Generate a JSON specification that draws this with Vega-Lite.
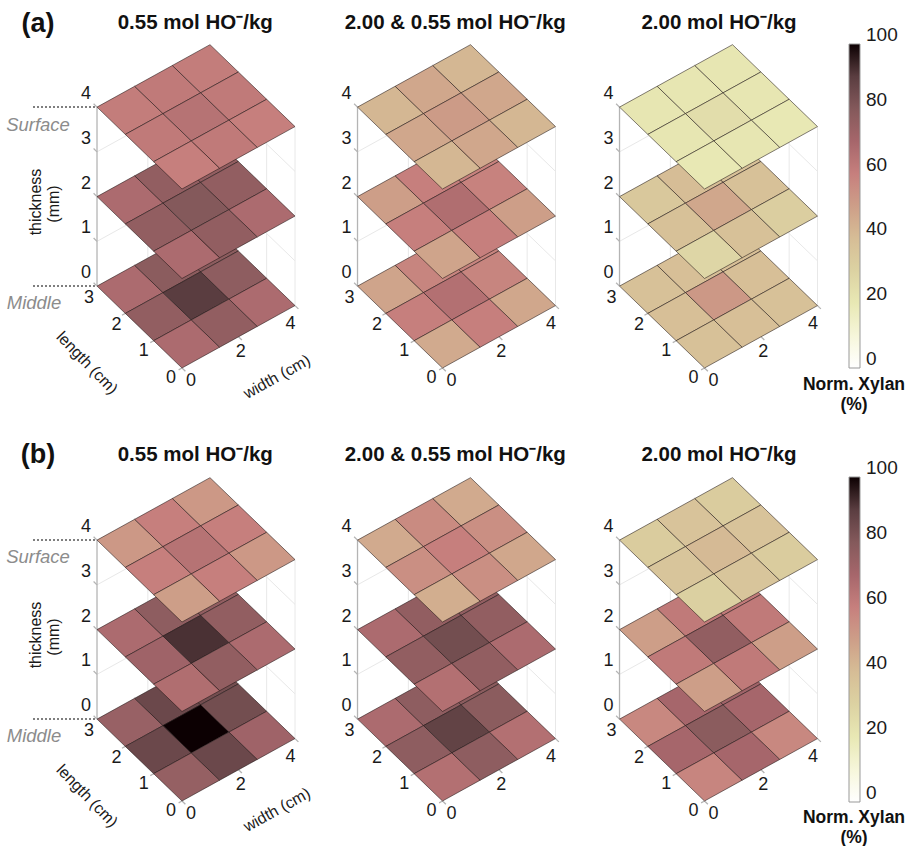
{"$schema":"https://vega.github.io/schema/vega-lite/v6.json","padding":0,"autosize":{"type":"pad"},"background":"white",
"config":{"view":{"stroke":null},"font":"Liberation Sans","title":{"font":"Liberation Sans","fontSize":20.5,"fontWeight":"bold","color":"#111","anchor":"middle"},"text":{"font":"Liberation Sans"}},
"datasets":{
"cells":[
{"row":"a","col":1,"t":0,"w":0.6667,"l":2.5,"xylan":68},{"row":"a","col":1,"t":0,"w":2,"l":2.5,"xylan":78},{"row":"a","col":1,"t":0,"w":3.3333,"l":2.5,"xylan":78},{"row":"a","col":1,"t":0,"w":0.6667,"l":1.5,"xylan":76},{"row":"a","col":1,"t":0,"w":2,"l":1.5,"xylan":90},{"row":"a","col":1,"t":0,"w":3.3333,"l":1.5,"xylan":77},{"row":"a","col":1,"t":0,"w":0.6667,"l":0.5,"xylan":68},{"row":"a","col":1,"t":0,"w":2,"l":0.5,"xylan":76},{"row":"a","col":1,"t":0,"w":3.3333,"l":0.5,"xylan":68},
{"row":"a","col":1,"t":2,"w":0.6667,"l":2.5,"xylan":68},{"row":"a","col":1,"t":2,"w":2,"l":2.5,"xylan":76},{"row":"a","col":1,"t":2,"w":3.3333,"l":2.5,"xylan":76},{"row":"a","col":1,"t":2,"w":0.6667,"l":1.5,"xylan":76},{"row":"a","col":1,"t":2,"w":2,"l":1.5,"xylan":80},{"row":"a","col":1,"t":2,"w":3.3333,"l":1.5,"xylan":76},{"row":"a","col":1,"t":2,"w":0.6667,"l":0.5,"xylan":68},{"row":"a","col":1,"t":2,"w":2,"l":0.5,"xylan":76},{"row":"a","col":1,"t":2,"w":3.3333,"l":0.5,"xylan":68},
{"row":"a","col":1,"t":4,"w":0.6667,"l":2.5,"xylan":61},{"row":"a","col":1,"t":4,"w":2,"l":2.5,"xylan":62},{"row":"a","col":1,"t":4,"w":3.3333,"l":2.5,"xylan":61},{"row":"a","col":1,"t":4,"w":0.6667,"l":1.5,"xylan":62},{"row":"a","col":1,"t":4,"w":2,"l":1.5,"xylan":65},{"row":"a","col":1,"t":4,"w":3.3333,"l":1.5,"xylan":62},{"row":"a","col":1,"t":4,"w":0.6667,"l":0.5,"xylan":60},{"row":"a","col":1,"t":4,"w":2,"l":0.5,"xylan":62},{"row":"a","col":1,"t":4,"w":3.3333,"l":0.5,"xylan":60},
{"row":"a","col":2,"t":0,"w":0.6667,"l":2.5,"xylan":48},{"row":"a","col":2,"t":0,"w":2,"l":2.5,"xylan":58},{"row":"a","col":2,"t":0,"w":3.3333,"l":2.5,"xylan":58},{"row":"a","col":2,"t":0,"w":0.6667,"l":1.5,"xylan":60},{"row":"a","col":2,"t":0,"w":2,"l":1.5,"xylan":66},{"row":"a","col":2,"t":0,"w":3.3333,"l":1.5,"xylan":58},{"row":"a","col":2,"t":0,"w":0.6667,"l":0.5,"xylan":46},{"row":"a","col":2,"t":0,"w":2,"l":0.5,"xylan":60},{"row":"a","col":2,"t":0,"w":3.3333,"l":0.5,"xylan":47},
{"row":"a","col":2,"t":2,"w":0.6667,"l":2.5,"xylan":50},{"row":"a","col":2,"t":2,"w":2,"l":2.5,"xylan":60},{"row":"a","col":2,"t":2,"w":3.3333,"l":2.5,"xylan":59},{"row":"a","col":2,"t":2,"w":0.6667,"l":1.5,"xylan":60},{"row":"a","col":2,"t":2,"w":2,"l":1.5,"xylan":67},{"row":"a","col":2,"t":2,"w":3.3333,"l":1.5,"xylan":59},{"row":"a","col":2,"t":2,"w":0.6667,"l":0.5,"xylan":48},{"row":"a","col":2,"t":2,"w":2,"l":0.5,"xylan":60},{"row":"a","col":2,"t":2,"w":3.3333,"l":0.5,"xylan":50},
{"row":"a","col":2,"t":4,"w":0.6667,"l":2.5,"xylan":42},{"row":"a","col":2,"t":4,"w":2,"l":2.5,"xylan":47},{"row":"a","col":2,"t":4,"w":3.3333,"l":2.5,"xylan":42},{"row":"a","col":2,"t":4,"w":0.6667,"l":1.5,"xylan":47},{"row":"a","col":2,"t":4,"w":2,"l":1.5,"xylan":51},{"row":"a","col":2,"t":4,"w":3.3333,"l":1.5,"xylan":47},{"row":"a","col":2,"t":4,"w":0.6667,"l":0.5,"xylan":42},{"row":"a","col":2,"t":4,"w":2,"l":0.5,"xylan":47},{"row":"a","col":2,"t":4,"w":3.3333,"l":0.5,"xylan":42},
{"row":"a","col":3,"t":0,"w":0.6667,"l":2.5,"xylan":38},{"row":"a","col":3,"t":0,"w":2,"l":2.5,"xylan":39},{"row":"a","col":3,"t":0,"w":3.3333,"l":2.5,"xylan":39},{"row":"a","col":3,"t":0,"w":0.6667,"l":1.5,"xylan":39},{"row":"a","col":3,"t":0,"w":2,"l":1.5,"xylan":52},{"row":"a","col":3,"t":0,"w":3.3333,"l":1.5,"xylan":39},{"row":"a","col":3,"t":0,"w":0.6667,"l":0.5,"xylan":38},{"row":"a","col":3,"t":0,"w":2,"l":0.5,"xylan":39},{"row":"a","col":3,"t":0,"w":3.3333,"l":0.5,"xylan":38},
{"row":"a","col":3,"t":2,"w":0.6667,"l":2.5,"xylan":35},{"row":"a","col":3,"t":2,"w":2,"l":2.5,"xylan":40},{"row":"a","col":3,"t":2,"w":3.3333,"l":2.5,"xylan":38},{"row":"a","col":3,"t":2,"w":0.6667,"l":1.5,"xylan":38},{"row":"a","col":3,"t":2,"w":2,"l":1.5,"xylan":47},{"row":"a","col":3,"t":2,"w":3.3333,"l":1.5,"xylan":38},{"row":"a","col":3,"t":2,"w":0.6667,"l":0.5,"xylan":28},{"row":"a","col":3,"t":2,"w":2,"l":0.5,"xylan":38},{"row":"a","col":3,"t":2,"w":3.3333,"l":0.5,"xylan":32},
{"row":"a","col":3,"t":4,"w":0.6667,"l":2.5,"xylan":21},{"row":"a","col":3,"t":4,"w":2,"l":2.5,"xylan":21},{"row":"a","col":3,"t":4,"w":3.3333,"l":2.5,"xylan":21},{"row":"a","col":3,"t":4,"w":0.6667,"l":1.5,"xylan":21},{"row":"a","col":3,"t":4,"w":2,"l":1.5,"xylan":25},{"row":"a","col":3,"t":4,"w":3.3333,"l":1.5,"xylan":21},{"row":"a","col":3,"t":4,"w":0.6667,"l":0.5,"xylan":20},{"row":"a","col":3,"t":4,"w":2,"l":0.5,"xylan":21},{"row":"a","col":3,"t":4,"w":3.3333,"l":0.5,"xylan":20},
{"row":"b","col":1,"t":0,"w":0.6667,"l":2.5,"xylan":74},{"row":"b","col":1,"t":0,"w":2,"l":2.5,"xylan":86},{"row":"b","col":1,"t":0,"w":3.3333,"l":2.5,"xylan":84},{"row":"b","col":1,"t":0,"w":0.6667,"l":1.5,"xylan":86},{"row":"b","col":1,"t":0,"w":2,"l":1.5,"xylan":100},{"row":"b","col":1,"t":0,"w":3.3333,"l":1.5,"xylan":84},{"row":"b","col":1,"t":0,"w":0.6667,"l":0.5,"xylan":75},{"row":"b","col":1,"t":0,"w":2,"l":0.5,"xylan":86},{"row":"b","col":1,"t":0,"w":3.3333,"l":0.5,"xylan":72},
{"row":"b","col":1,"t":2,"w":0.6667,"l":2.5,"xylan":68},{"row":"b","col":1,"t":2,"w":2,"l":2.5,"xylan":77},{"row":"b","col":1,"t":2,"w":3.3333,"l":2.5,"xylan":76},{"row":"b","col":1,"t":2,"w":0.6667,"l":1.5,"xylan":72},{"row":"b","col":1,"t":2,"w":2,"l":1.5,"xylan":92},{"row":"b","col":1,"t":2,"w":3.3333,"l":1.5,"xylan":76},{"row":"b","col":1,"t":2,"w":0.6667,"l":0.5,"xylan":67},{"row":"b","col":1,"t":2,"w":2,"l":0.5,"xylan":76},{"row":"b","col":1,"t":2,"w":3.3333,"l":0.5,"xylan":68},
{"row":"b","col":1,"t":4,"w":0.6667,"l":2.5,"xylan":52},{"row":"b","col":1,"t":4,"w":2,"l":2.5,"xylan":60},{"row":"b","col":1,"t":4,"w":3.3333,"l":2.5,"xylan":52},{"row":"b","col":1,"t":4,"w":0.6667,"l":1.5,"xylan":60},{"row":"b","col":1,"t":4,"w":2,"l":1.5,"xylan":65},{"row":"b","col":1,"t":4,"w":3.3333,"l":1.5,"xylan":60},{"row":"b","col":1,"t":4,"w":0.6667,"l":0.5,"xylan":50},{"row":"b","col":1,"t":4,"w":2,"l":0.5,"xylan":60},{"row":"b","col":1,"t":4,"w":3.3333,"l":0.5,"xylan":52},
{"row":"b","col":2,"t":0,"w":0.6667,"l":2.5,"xylan":68},{"row":"b","col":2,"t":0,"w":2,"l":2.5,"xylan":77},{"row":"b","col":2,"t":0,"w":3.3333,"l":2.5,"xylan":78},{"row":"b","col":2,"t":0,"w":0.6667,"l":1.5,"xylan":77},{"row":"b","col":2,"t":0,"w":2,"l":1.5,"xylan":88},{"row":"b","col":2,"t":0,"w":3.3333,"l":1.5,"xylan":78},{"row":"b","col":2,"t":0,"w":0.6667,"l":0.5,"xylan":66},{"row":"b","col":2,"t":0,"w":2,"l":0.5,"xylan":77},{"row":"b","col":2,"t":0,"w":3.3333,"l":0.5,"xylan":66},
{"row":"b","col":2,"t":2,"w":0.6667,"l":2.5,"xylan":68},{"row":"b","col":2,"t":2,"w":2,"l":2.5,"xylan":76},{"row":"b","col":2,"t":2,"w":3.3333,"l":2.5,"xylan":76},{"row":"b","col":2,"t":2,"w":0.6667,"l":1.5,"xylan":76},{"row":"b","col":2,"t":2,"w":2,"l":1.5,"xylan":84},{"row":"b","col":2,"t":2,"w":3.3333,"l":1.5,"xylan":76},{"row":"b","col":2,"t":2,"w":0.6667,"l":0.5,"xylan":66},{"row":"b","col":2,"t":2,"w":2,"l":0.5,"xylan":76},{"row":"b","col":2,"t":2,"w":3.3333,"l":0.5,"xylan":68},
{"row":"b","col":2,"t":4,"w":0.6667,"l":2.5,"xylan":46},{"row":"b","col":2,"t":4,"w":2,"l":2.5,"xylan":56},{"row":"b","col":2,"t":4,"w":3.3333,"l":2.5,"xylan":46},{"row":"b","col":2,"t":4,"w":0.6667,"l":1.5,"xylan":55},{"row":"b","col":2,"t":4,"w":2,"l":1.5,"xylan":60},{"row":"b","col":2,"t":4,"w":3.3333,"l":1.5,"xylan":55},{"row":"b","col":2,"t":4,"w":0.6667,"l":0.5,"xylan":45},{"row":"b","col":2,"t":4,"w":2,"l":0.5,"xylan":55},{"row":"b","col":2,"t":4,"w":3.3333,"l":0.5,"xylan":47},
{"row":"b","col":3,"t":0,"w":0.6667,"l":2.5,"xylan":57},{"row":"b","col":3,"t":0,"w":2,"l":2.5,"xylan":70},{"row":"b","col":3,"t":0,"w":3.3333,"l":2.5,"xylan":72},{"row":"b","col":3,"t":0,"w":0.6667,"l":1.5,"xylan":70},{"row":"b","col":3,"t":0,"w":2,"l":1.5,"xylan":78},{"row":"b","col":3,"t":0,"w":3.3333,"l":1.5,"xylan":70},{"row":"b","col":3,"t":0,"w":0.6667,"l":0.5,"xylan":58},{"row":"b","col":3,"t":0,"w":2,"l":0.5,"xylan":70},{"row":"b","col":3,"t":0,"w":3.3333,"l":0.5,"xylan":57},
{"row":"b","col":3,"t":2,"w":0.6667,"l":2.5,"xylan":50},{"row":"b","col":3,"t":2,"w":2,"l":2.5,"xylan":62},{"row":"b","col":3,"t":2,"w":3.3333,"l":2.5,"xylan":62},{"row":"b","col":3,"t":2,"w":0.6667,"l":1.5,"xylan":62},{"row":"b","col":3,"t":2,"w":2,"l":1.5,"xylan":76},{"row":"b","col":3,"t":2,"w":3.3333,"l":1.5,"xylan":62},{"row":"b","col":3,"t":2,"w":0.6667,"l":0.5,"xylan":50},{"row":"b","col":3,"t":2,"w":2,"l":0.5,"xylan":62},{"row":"b","col":3,"t":2,"w":3.3333,"l":0.5,"xylan":50},
{"row":"b","col":3,"t":4,"w":0.6667,"l":2.5,"xylan":33},{"row":"b","col":3,"t":4,"w":2,"l":2.5,"xylan":37},{"row":"b","col":3,"t":4,"w":3.3333,"l":2.5,"xylan":33},{"row":"b","col":3,"t":4,"w":0.6667,"l":1.5,"xylan":36},{"row":"b","col":3,"t":4,"w":2,"l":1.5,"xylan":41},{"row":"b","col":3,"t":4,"w":3.3333,"l":1.5,"xylan":37},{"row":"b","col":3,"t":4,"w":0.6667,"l":0.5,"xylan":31},{"row":"b","col":3,"t":4,"w":2,"l":0.5,"xylan":36},{"row":"b","col":3,"t":4,"w":3.3333,"l":0.5,"xylan":33}
],
"frame":[
{"kind":"grid","w1":0,"l1":3,"t1":1,"w2":4,"l2":3,"t2":1},{"kind":"grid","w1":0,"l1":3,"t1":3,"w2":4,"l2":3,"t2":3},{"kind":"grid","w1":4,"l1":3,"t1":1,"w2":4,"l2":0,"t2":1},{"kind":"grid","w1":4,"l1":3,"t1":3,"w2":4,"l2":0,"t2":3},
{"kind":"grid","w1":1.8,"l1":3,"t1":0,"w2":1.8,"l2":3,"t2":4},{"kind":"grid","w1":4,"l1":1,"t1":0,"w2":4,"l2":1,"t2":4},{"kind":"grid","w1":4,"l1":0,"t1":0,"w2":4,"l2":0,"t2":4},
{"kind":"axis","w1":0,"l1":3,"t1":0,"w2":0,"l2":3,"t2":4},
{"kind":"axis","w1":0,"l1":3,"t1":0,"w2":0,"l2":3.12,"t2":0},{"kind":"axis","w1":0,"l1":3,"t1":1,"w2":0,"l2":3.12,"t2":1},{"kind":"axis","w1":0,"l1":3,"t1":2,"w2":0,"l2":3.12,"t2":2},{"kind":"axis","w1":0,"l1":3,"t1":3,"w2":0,"l2":3.12,"t2":3},{"kind":"axis","w1":0,"l1":3,"t1":4,"w2":0,"l2":3.12,"t2":4},
{"kind":"axis","w1":0,"l1":0,"t1":0,"w2":-0.12,"l2":0,"t2":0},{"kind":"axis","w1":0,"l1":1,"t1":0,"w2":-0.12,"l2":1,"t2":0},{"kind":"axis","w1":0,"l1":2,"t1":0,"w2":-0.12,"l2":2,"t2":0},
{"kind":"axis","w1":0,"l1":0,"t1":0,"w2":0,"l2":-0.12,"t2":0},{"kind":"axis","w1":2,"l1":0,"t1":0,"w2":2,"l2":-0.12,"t2":0},{"kind":"axis","w1":4,"l1":0,"t1":0,"w2":4,"l2":-0.12,"t2":0}
],
"ticks":[{"axis":"t","v":0},{"axis":"t","v":1},{"axis":"t","v":2},{"axis":"t","v":3},{"axis":"t","v":4},{"axis":"l","v":0},{"axis":"l","v":1},{"axis":"l","v":2},{"axis":"l","v":3},{"axis":"w","v":0},{"axis":"w","v":2},{"axis":"w","v":4}]
},
"spacing":0,
"resolve":{"scale":{"color":"independent"}},
"vconcat":[
{"spacing":0,"bounds":"flush","resolve":{"scale":{"color":"independent"}},"hconcat":[
{"title":{"text":"0.55 mol HO⁻/kg","offset":-33,"dx":65},"width":260.5,"height":432,
"encoding":{"x":{"field":"X","type":"quantitative","scale":{"domain":[-182,78.5],"nice":false,"zero":false},"axis":null},"y":{"field":"Y","type":"quantitative","scale":{"domain":[-64,368],"nice":false,"zero":false},"axis":null}},
"layer":[
{"data":{"name":"frame"},"transform":[{"filter":"datum.kind=='grid'"},{"calculate":"28.25*datum.w1-28.33*datum.l1","as":"X"},{"calculate":"44.75*datum.t1+15.6*datum.w1+27.3*datum.l1","as":"Y"},{"calculate":"28.25*datum.w2-28.33*datum.l2","as":"X2"},{"calculate":"44.75*datum.t2+15.6*datum.w2+27.3*datum.l2","as":"Y2"}],"mark":{"type":"rule","stroke":"#e8e8e8","strokeWidth":1},"encoding":{"x2":{"field":"X2"},"y2":{"field":"Y2"}}},
{"data":{"name":"frame"},"transform":[{"filter":"datum.kind=='axis'"},{"calculate":"28.25*datum.w1-28.33*datum.l1","as":"X"},{"calculate":"44.75*datum.t1+15.6*datum.w1+27.3*datum.l1","as":"Y"},{"calculate":"28.25*datum.w2-28.33*datum.l2","as":"X2"},{"calculate":"44.75*datum.t2+15.6*datum.w2+27.3*datum.l2","as":"Y2"}],"mark":{"type":"rule","stroke":"#b4b4b4","strokeWidth":1.3},"encoding":{"x2":{"field":"X2"},"y2":{"field":"Y2"}}},
{"data":{"name":"cells"},"transform":[{"filter":"datum.row=='a'&&datum.col==1"},{"calculate":"28.25*datum.w-28.33*datum.l","as":"X"},{"calculate":"44.75*datum.t+15.6*datum.w+27.3*datum.l","as":"Y"}],"mark":{"type":"point","shape":"M-4.67 24.08L33 3.25L4.67 -24.08L-33 -3.25Z","size":4,"filled":true,"opacity":1,"stroke":"#1a1010","strokeWidth":0.9,"strokeOpacity":0.6},"encoding":{"color":{"field":"xylan","type":"quantitative","scale":{"domain":[0,10,20,30,40,50,60,70,80,90,100],"range":["#ffffff","#f6f6da","#e8e8b4","#dcd2a2","#d6bd96","#cd9e88","#c67f7d","#a6666b","#84595b","#5a3d40","#0c0002"],"interpolate":"rgb"},"legend":null}}},
{"data":{"name":"ticks"},"transform":[{"calculate":"datum.axis=='t'?-96:datum.axis=='l'?-11-27.3*datum.v:9+24.9*datum.v","as":"X"},{"calculate":"datum.axis=='t'?95+44.75*datum.v:datum.axis=='l'?-10+26.7*datum.v:-12.7+14.2*datum.v","as":"Y"}],"mark":{"type":"text","fontSize":18,"color":"#1a1a1a","align":"center","baseline":"middle"},"encoding":{"text":{"field":"v","type":"nominal"}}},
{"data":{"values":[{"level":0},{"level":4}]},"transform":[{"calculate":"-149","as":"X"},{"calculate":"-85","as":"X2"},{"calculate":"81.9+44.75*datum.level","as":"Y"}],"mark":{"type":"rule","stroke":"#555","strokeWidth":1.5,"strokeDash":[2,2]},"encoding":{"x2":{"field":"X2"}}},
{"data":{"values":[{"label":"Surface"}]},"transform":[{"calculate":"-144","as":"X"},{"calculate":"243","as":"Y"}],"mark":{"type":"text","fontSize":18.5,"fontStyle":"italic","color":"#8c8c8c"},"encoding":{"text":{"field":"label"}}},
{"data":{"values":[{"label":"Middle"}]},"transform":[{"calculate":"-148","as":"X"},{"calculate":"65","as":"Y"}],"mark":{"type":"text","fontSize":18.5,"fontStyle":"italic","color":"#8c8c8c"},"encoding":{"text":{"field":"label"}}},
{"data":{"values":[{"label":"thickness"}]},"transform":[{"calculate":"-146","as":"X"},{"calculate":"166","as":"Y"}],"mark":{"type":"text","fontSize":16,"angle":270,"color":"#1a1a1a"},"encoding":{"text":{"field":"label"}}},
{"data":{"values":[{"label":"(mm)"}]},"transform":[{"calculate":"-128","as":"X"},{"calculate":"164","as":"Y"}],"mark":{"type":"text","fontSize":16,"angle":270,"color":"#1a1a1a"},"encoding":{"text":{"field":"label"}}},
{"data":{"values":[{"label":"length (cm)"}]},"transform":[{"calculate":"-95","as":"X"},{"calculate":"5","as":"Y"}],"mark":{"type":"text","fontSize":16,"angle":46,"color":"#1a1a1a"},"encoding":{"text":{"field":"label"}}},
{"data":{"values":[{"label":"width (cm)"}]},"transform":[{"calculate":"95","as":"X"},{"calculate":"-9","as":"Y"}],"mark":{"type":"text","fontSize":16,"angle":331,"color":"#1a1a1a"},"encoding":{"text":{"field":"label"}}},
{"data":{"values":[{"label":"(a)"}]},"transform":[{"calculate":"-144","as":"X"},{"calculate":"344","as":"Y"}],"mark":{"type":"text","fontSize":27,"fontWeight":"bold","color":"#111"},"encoding":{"text":{"field":"label"}}}
]},
{"title":{"text":"2.00 & 0.55 mol HO⁻/kg","offset":-33,"dx":64},"width":260.5,"height":432,
"encoding":{"x":{"field":"X","type":"quantitative","scale":{"domain":[-181.5,79],"nice":false,"zero":false},"axis":null},"y":{"field":"Y","type":"quantitative","scale":{"domain":[-64,368],"nice":false,"zero":false},"axis":null}},
"layer":[
{"data":{"name":"frame"},"transform":[{"filter":"datum.kind=='grid'"},{"calculate":"28.25*datum.w1-28.33*datum.l1","as":"X"},{"calculate":"44.75*datum.t1+15.6*datum.w1+27.3*datum.l1","as":"Y"},{"calculate":"28.25*datum.w2-28.33*datum.l2","as":"X2"},{"calculate":"44.75*datum.t2+15.6*datum.w2+27.3*datum.l2","as":"Y2"}],"mark":{"type":"rule","stroke":"#e8e8e8","strokeWidth":1},"encoding":{"x2":{"field":"X2"},"y2":{"field":"Y2"}}},
{"data":{"name":"frame"},"transform":[{"filter":"datum.kind=='axis'"},{"calculate":"28.25*datum.w1-28.33*datum.l1","as":"X"},{"calculate":"44.75*datum.t1+15.6*datum.w1+27.3*datum.l1","as":"Y"},{"calculate":"28.25*datum.w2-28.33*datum.l2","as":"X2"},{"calculate":"44.75*datum.t2+15.6*datum.w2+27.3*datum.l2","as":"Y2"}],"mark":{"type":"rule","stroke":"#b4b4b4","strokeWidth":1.3},"encoding":{"x2":{"field":"X2"},"y2":{"field":"Y2"}}},
{"data":{"name":"cells"},"transform":[{"filter":"datum.row=='a'&&datum.col==2"},{"calculate":"28.25*datum.w-28.33*datum.l","as":"X"},{"calculate":"44.75*datum.t+15.6*datum.w+27.3*datum.l","as":"Y"}],"mark":{"type":"point","shape":"M-4.67 24.08L33 3.25L4.67 -24.08L-33 -3.25Z","size":4,"filled":true,"opacity":1,"stroke":"#1a1010","strokeWidth":0.9,"strokeOpacity":0.6},"encoding":{"color":{"field":"xylan","type":"quantitative","scale":{"domain":[0,10,20,30,40,50,60,70,80,90,100],"range":["#ffffff","#f6f6da","#e8e8b4","#dcd2a2","#d6bd96","#cd9e88","#c67f7d","#a6666b","#84595b","#5a3d40","#0c0002"],"interpolate":"rgb"},"legend":null}}},
{"data":{"name":"ticks"},"transform":[{"calculate":"datum.axis=='t'?-96:datum.axis=='l'?-11-27.3*datum.v:9+24.9*datum.v","as":"X"},{"calculate":"datum.axis=='t'?95+44.75*datum.v:datum.axis=='l'?-10+26.7*datum.v:-12.7+14.2*datum.v","as":"Y"}],"mark":{"type":"text","fontSize":18,"color":"#1a1a1a","align":"center","baseline":"middle"},"encoding":{"text":{"field":"v","type":"nominal"}}}
]},
{"title":{"text":"2.00 mol HO⁻/kg","offset":-33,"dx":1.5},"width":391,"height":432,
"encoding":{"x":{"field":"X","type":"quantitative","scale":{"domain":[-182.5,208.5],"nice":false,"zero":false},"axis":null},"y":{"field":"Y","type":"quantitative","scale":{"domain":[-64,368],"nice":false,"zero":false},"axis":null}},
"layer":[
{"data":{"name":"frame"},"transform":[{"filter":"datum.kind=='grid'"},{"calculate":"28.25*datum.w1-28.33*datum.l1","as":"X"},{"calculate":"44.75*datum.t1+15.6*datum.w1+27.3*datum.l1","as":"Y"},{"calculate":"28.25*datum.w2-28.33*datum.l2","as":"X2"},{"calculate":"44.75*datum.t2+15.6*datum.w2+27.3*datum.l2","as":"Y2"}],"mark":{"type":"rule","stroke":"#e8e8e8","strokeWidth":1},"encoding":{"x2":{"field":"X2"},"y2":{"field":"Y2"}}},
{"data":{"name":"frame"},"transform":[{"filter":"datum.kind=='axis'"},{"calculate":"28.25*datum.w1-28.33*datum.l1","as":"X"},{"calculate":"44.75*datum.t1+15.6*datum.w1+27.3*datum.l1","as":"Y"},{"calculate":"28.25*datum.w2-28.33*datum.l2","as":"X2"},{"calculate":"44.75*datum.t2+15.6*datum.w2+27.3*datum.l2","as":"Y2"}],"mark":{"type":"rule","stroke":"#b4b4b4","strokeWidth":1.3},"encoding":{"x2":{"field":"X2"},"y2":{"field":"Y2"}}},
{"data":{"name":"cells"},"transform":[{"filter":"datum.row=='a'&&datum.col==3"},{"calculate":"28.25*datum.w-28.33*datum.l","as":"X"},{"calculate":"44.75*datum.t+15.6*datum.w+27.3*datum.l","as":"Y"}],"mark":{"type":"point","shape":"M-4.67 24.08L33 3.25L4.67 -24.08L-33 -3.25Z","size":4,"filled":true,"opacity":1,"stroke":"#1a1010","strokeWidth":0.9,"strokeOpacity":0.6},"encoding":{"color":{"field":"xylan","type":"quantitative","scale":{"domain":[0,10,20,30,40,50,60,70,80,90,100],"range":["#ffffff","#f6f6da","#e8e8b4","#dcd2a2","#d6bd96","#cd9e88","#c67f7d","#a6666b","#84595b","#5a3d40","#0c0002"],"interpolate":"rgb"},"legend":{"orient":"none","legendX":327,"legendY":44,"title":null,"type":"gradient","direction":"vertical","gradientLength":324,"gradientThickness":11,"gradientStrokeColor":"#999","gradientStrokeWidth":1,"values":[0,20,40,60,80,100],"labelFont":"Liberation Sans","labelFontSize":19,"labelColor":"#1a1a1a","labelOffset":6,"labelOverlap":false,"encoding":{"labels":{"baseline":{"value":"middle"},"dy":{"value":-9}}}}}}},
{"data":{"name":"ticks"},"transform":[{"calculate":"datum.axis=='t'?-96:datum.axis=='l'?-11-27.3*datum.v:9+24.9*datum.v","as":"X"},{"calculate":"datum.axis=='t'?95+44.75*datum.v:datum.axis=='l'?-10+26.7*datum.v:-12.7+14.2*datum.v","as":"Y"}],"mark":{"type":"text","fontSize":18,"color":"#1a1a1a","align":"center","baseline":"middle"},"encoding":{"text":{"field":"v","type":"nominal"}}},
{"data":{"values":[{"label":"Norm. Xylan (%)"}]},"transform":[{"calculate":"149.5","as":"X"},{"calculate":"-17","as":"Y"}],"mark":{"type":"text","text":["Norm. Xylan","(%)"],"fontSize":17.5,"fontWeight":"bold","color":"#111","lineHeight":20,"baseline":"middle"}}
]}
]},
{"spacing":0,"bounds":"flush","resolve":{"scale":{"color":"independent"}},"hconcat":[
{"title":{"text":"0.55 mol HO⁻/kg","offset":-33,"dx":65},"width":260.5,"height":414,
"encoding":{"x":{"field":"X","type":"quantitative","scale":{"domain":[-182,78.5],"nice":false,"zero":false},"axis":null},"y":{"field":"Y","type":"quantitative","scale":{"domain":[-45,369],"nice":false,"zero":false},"axis":null}},
"layer":[
{"data":{"name":"frame"},"transform":[{"filter":"datum.kind=='grid'"},{"calculate":"28.25*datum.w1-28.33*datum.l1","as":"X"},{"calculate":"44.75*datum.t1+15.6*datum.w1+27.3*datum.l1","as":"Y"},{"calculate":"28.25*datum.w2-28.33*datum.l2","as":"X2"},{"calculate":"44.75*datum.t2+15.6*datum.w2+27.3*datum.l2","as":"Y2"}],"mark":{"type":"rule","stroke":"#e8e8e8","strokeWidth":1},"encoding":{"x2":{"field":"X2"},"y2":{"field":"Y2"}}},
{"data":{"name":"frame"},"transform":[{"filter":"datum.kind=='axis'"},{"calculate":"28.25*datum.w1-28.33*datum.l1","as":"X"},{"calculate":"44.75*datum.t1+15.6*datum.w1+27.3*datum.l1","as":"Y"},{"calculate":"28.25*datum.w2-28.33*datum.l2","as":"X2"},{"calculate":"44.75*datum.t2+15.6*datum.w2+27.3*datum.l2","as":"Y2"}],"mark":{"type":"rule","stroke":"#b4b4b4","strokeWidth":1.3},"encoding":{"x2":{"field":"X2"},"y2":{"field":"Y2"}}},
{"data":{"name":"cells"},"transform":[{"filter":"datum.row=='b'&&datum.col==1"},{"calculate":"28.25*datum.w-28.33*datum.l","as":"X"},{"calculate":"44.75*datum.t+15.6*datum.w+27.3*datum.l","as":"Y"}],"mark":{"type":"point","shape":"M-4.67 24.08L33 3.25L4.67 -24.08L-33 -3.25Z","size":4,"filled":true,"opacity":1,"stroke":"#1a1010","strokeWidth":0.9,"strokeOpacity":0.6},"encoding":{"color":{"field":"xylan","type":"quantitative","scale":{"domain":[0,10,20,30,40,50,60,70,80,90,100],"range":["#ffffff","#f6f6da","#e8e8b4","#dcd2a2","#d6bd96","#cd9e88","#c67f7d","#a6666b","#84595b","#5a3d40","#0c0002"],"interpolate":"rgb"},"legend":null}}},
{"data":{"name":"ticks"},"transform":[{"calculate":"datum.axis=='t'?-96:datum.axis=='l'?-11-27.3*datum.v:9+24.9*datum.v","as":"X"},{"calculate":"datum.axis=='t'?95+44.75*datum.v:datum.axis=='l'?-10+26.7*datum.v:-12.7+14.2*datum.v","as":"Y"}],"mark":{"type":"text","fontSize":18,"color":"#1a1a1a","align":"center","baseline":"middle"},"encoding":{"text":{"field":"v","type":"nominal"}}},
{"data":{"values":[{"level":0},{"level":4}]},"transform":[{"calculate":"-149","as":"X"},{"calculate":"-85","as":"X2"},{"calculate":"81.9+44.75*datum.level","as":"Y"}],"mark":{"type":"rule","stroke":"#555","strokeWidth":1.5,"strokeDash":[2,2]},"encoding":{"x2":{"field":"X2"}}},
{"data":{"values":[{"label":"Surface"}]},"transform":[{"calculate":"-144","as":"X"},{"calculate":"244","as":"Y"}],"mark":{"type":"text","fontSize":18.5,"fontStyle":"italic","color":"#8c8c8c"},"encoding":{"text":{"field":"label"}}},
{"data":{"values":[{"label":"Middle"}]},"transform":[{"calculate":"-148","as":"X"},{"calculate":"65","as":"Y"}],"mark":{"type":"text","fontSize":18.5,"fontStyle":"italic","color":"#8c8c8c"},"encoding":{"text":{"field":"label"}}},
{"data":{"values":[{"label":"thickness"}]},"transform":[{"calculate":"-146","as":"X"},{"calculate":"166","as":"Y"}],"mark":{"type":"text","fontSize":16,"angle":270,"color":"#1a1a1a"},"encoding":{"text":{"field":"label"}}},
{"data":{"values":[{"label":"(mm)"}]},"transform":[{"calculate":"-128","as":"X"},{"calculate":"164","as":"Y"}],"mark":{"type":"text","fontSize":16,"angle":270,"color":"#1a1a1a"},"encoding":{"text":{"field":"label"}}},
{"data":{"values":[{"label":"length (cm)"}]},"transform":[{"calculate":"-95","as":"X"},{"calculate":"5","as":"Y"}],"mark":{"type":"text","fontSize":16,"angle":46,"color":"#1a1a1a"},"encoding":{"text":{"field":"label"}}},
{"data":{"values":[{"label":"width (cm)"}]},"transform":[{"calculate":"95","as":"X"},{"calculate":"-9","as":"Y"}],"mark":{"type":"text","fontSize":16,"angle":331,"color":"#1a1a1a"},"encoding":{"text":{"field":"label"}}},
{"data":{"values":[{"label":"(b)"}]},"transform":[{"calculate":"-144","as":"X"},{"calculate":"346","as":"Y"}],"mark":{"type":"text","fontSize":27,"fontWeight":"bold","color":"#111"},"encoding":{"text":{"field":"label"}}}
]},
{"title":{"text":"2.00 & 0.55 mol HO⁻/kg","offset":-33,"dx":64},"width":260.5,"height":414,
"encoding":{"x":{"field":"X","type":"quantitative","scale":{"domain":[-181.5,79],"nice":false,"zero":false},"axis":null},"y":{"field":"Y","type":"quantitative","scale":{"domain":[-45,369],"nice":false,"zero":false},"axis":null}},
"layer":[
{"data":{"name":"frame"},"transform":[{"filter":"datum.kind=='grid'"},{"calculate":"28.25*datum.w1-28.33*datum.l1","as":"X"},{"calculate":"44.75*datum.t1+15.6*datum.w1+27.3*datum.l1","as":"Y"},{"calculate":"28.25*datum.w2-28.33*datum.l2","as":"X2"},{"calculate":"44.75*datum.t2+15.6*datum.w2+27.3*datum.l2","as":"Y2"}],"mark":{"type":"rule","stroke":"#e8e8e8","strokeWidth":1},"encoding":{"x2":{"field":"X2"},"y2":{"field":"Y2"}}},
{"data":{"name":"frame"},"transform":[{"filter":"datum.kind=='axis'"},{"calculate":"28.25*datum.w1-28.33*datum.l1","as":"X"},{"calculate":"44.75*datum.t1+15.6*datum.w1+27.3*datum.l1","as":"Y"},{"calculate":"28.25*datum.w2-28.33*datum.l2","as":"X2"},{"calculate":"44.75*datum.t2+15.6*datum.w2+27.3*datum.l2","as":"Y2"}],"mark":{"type":"rule","stroke":"#b4b4b4","strokeWidth":1.3},"encoding":{"x2":{"field":"X2"},"y2":{"field":"Y2"}}},
{"data":{"name":"cells"},"transform":[{"filter":"datum.row=='b'&&datum.col==2"},{"calculate":"28.25*datum.w-28.33*datum.l","as":"X"},{"calculate":"44.75*datum.t+15.6*datum.w+27.3*datum.l","as":"Y"}],"mark":{"type":"point","shape":"M-4.67 24.08L33 3.25L4.67 -24.08L-33 -3.25Z","size":4,"filled":true,"opacity":1,"stroke":"#1a1010","strokeWidth":0.9,"strokeOpacity":0.6},"encoding":{"color":{"field":"xylan","type":"quantitative","scale":{"domain":[0,10,20,30,40,50,60,70,80,90,100],"range":["#ffffff","#f6f6da","#e8e8b4","#dcd2a2","#d6bd96","#cd9e88","#c67f7d","#a6666b","#84595b","#5a3d40","#0c0002"],"interpolate":"rgb"},"legend":null}}},
{"data":{"name":"ticks"},"transform":[{"calculate":"datum.axis=='t'?-96:datum.axis=='l'?-11-27.3*datum.v:9+24.9*datum.v","as":"X"},{"calculate":"datum.axis=='t'?95+44.75*datum.v:datum.axis=='l'?-10+26.7*datum.v:-12.7+14.2*datum.v","as":"Y"}],"mark":{"type":"text","fontSize":18,"color":"#1a1a1a","align":"center","baseline":"middle"},"encoding":{"text":{"field":"v","type":"nominal"}}}
]},
{"title":{"text":"2.00 mol HO⁻/kg","offset":-33,"dx":1.5},"width":391,"height":414,
"encoding":{"x":{"field":"X","type":"quantitative","scale":{"domain":[-182.5,208.5],"nice":false,"zero":false},"axis":null},"y":{"field":"Y","type":"quantitative","scale":{"domain":[-45,369],"nice":false,"zero":false},"axis":null}},
"layer":[
{"data":{"name":"frame"},"transform":[{"filter":"datum.kind=='grid'"},{"calculate":"28.25*datum.w1-28.33*datum.l1","as":"X"},{"calculate":"44.75*datum.t1+15.6*datum.w1+27.3*datum.l1","as":"Y"},{"calculate":"28.25*datum.w2-28.33*datum.l2","as":"X2"},{"calculate":"44.75*datum.t2+15.6*datum.w2+27.3*datum.l2","as":"Y2"}],"mark":{"type":"rule","stroke":"#e8e8e8","strokeWidth":1},"encoding":{"x2":{"field":"X2"},"y2":{"field":"Y2"}}},
{"data":{"name":"frame"},"transform":[{"filter":"datum.kind=='axis'"},{"calculate":"28.25*datum.w1-28.33*datum.l1","as":"X"},{"calculate":"44.75*datum.t1+15.6*datum.w1+27.3*datum.l1","as":"Y"},{"calculate":"28.25*datum.w2-28.33*datum.l2","as":"X2"},{"calculate":"44.75*datum.t2+15.6*datum.w2+27.3*datum.l2","as":"Y2"}],"mark":{"type":"rule","stroke":"#b4b4b4","strokeWidth":1.3},"encoding":{"x2":{"field":"X2"},"y2":{"field":"Y2"}}},
{"data":{"name":"cells"},"transform":[{"filter":"datum.row=='b'&&datum.col==3"},{"calculate":"28.25*datum.w-28.33*datum.l","as":"X"},{"calculate":"44.75*datum.t+15.6*datum.w+27.3*datum.l","as":"Y"}],"mark":{"type":"point","shape":"M-4.67 24.08L33 3.25L4.67 -24.08L-33 -3.25Z","size":4,"filled":true,"opacity":1,"stroke":"#1a1010","strokeWidth":0.9,"strokeOpacity":0.6},"encoding":{"color":{"field":"xylan","type":"quantitative","scale":{"domain":[0,10,20,30,40,50,60,70,80,90,100],"range":["#ffffff","#f6f6da","#e8e8b4","#dcd2a2","#d6bd96","#cd9e88","#c67f7d","#a6666b","#84595b","#5a3d40","#0c0002"],"interpolate":"rgb"},"legend":{"orient":"none","legendX":327,"legendY":45,"title":null,"type":"gradient","direction":"vertical","gradientLength":325,"gradientThickness":11,"gradientStrokeColor":"#999","gradientStrokeWidth":1,"values":[0,20,40,60,80,100],"labelFont":"Liberation Sans","labelFontSize":19,"labelColor":"#1a1a1a","labelOffset":6,"labelOverlap":false,"encoding":{"labels":{"baseline":{"value":"middle"},"dy":{"value":-9}}}}}}},
{"data":{"name":"ticks"},"transform":[{"calculate":"datum.axis=='t'?-96:datum.axis=='l'?-11-27.3*datum.v:9+24.9*datum.v","as":"X"},{"calculate":"datum.axis=='t'?95+44.75*datum.v:datum.axis=='l'?-10+26.7*datum.v:-12.7+14.2*datum.v","as":"Y"}],"mark":{"type":"text","fontSize":18,"color":"#1a1a1a","align":"center","baseline":"middle"},"encoding":{"text":{"field":"v","type":"nominal"}}},
{"data":{"values":[{"label":"Norm. Xylan (%)"}]},"transform":[{"calculate":"149.5","as":"X"},{"calculate":"-17","as":"Y"}],"mark":{"type":"text","text":["Norm. Xylan","(%)"],"fontSize":17.5,"fontWeight":"bold","color":"#111","lineHeight":20,"baseline":"middle"}}
]}
]}
]}
